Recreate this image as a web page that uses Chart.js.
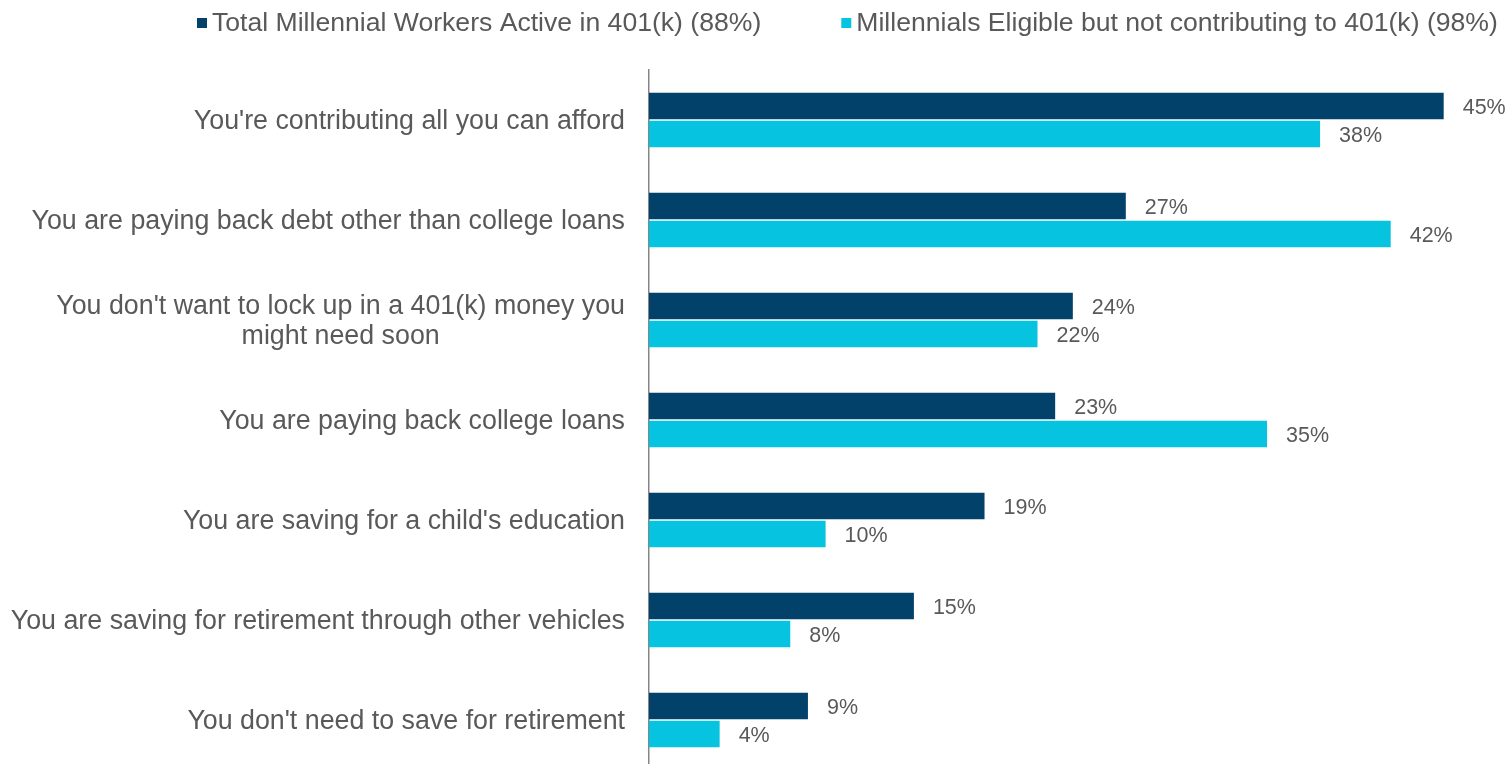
<!DOCTYPE html>
<html>
<head>
<meta charset="utf-8">
<script src="https://cdn.jsdelivr.net/npm/chart.js@4.4.1/dist/chart.umd.min.js"></script>
<style>
  html, body { margin: 0; padding: 0; background: #fff; overflow: hidden; }
  #wrap { position: relative; width: 1505px; height: 772px; }
</style>
</head>
<body>
<div id="wrap"><canvas id="c"></canvas></div>
<script>
const categories = [
  "You're contributing all you can afford",
  "You are paying back debt other than college loans",
  ["You don't want to lock up in a 401(k) money you", "might need soon"],
  "You are paying back college loans",
  "You are saving for a child's education",
  "You are saving for retirement through other vehicles",
  "You don't need to save for retirement"
];
const seriesNames = [
  "Total Millennial Workers Active in 401(k) (88%)",
  "Millennials Eligible but not contributing to 401(k) (98%)"
];
const activeValues = [45, 27, 24, 23, 19, 15, 9];
const eligibleValues = [38, 42, 22, 35, 10, 8, 4];
const colors = ["#02416A", "#06C3DF"];

const FONT = "'Liberation Sans', Arial, sans-serif";
const TEXT = "#595959";

const customPlugin = {
  id: 'custom',
  afterDraw(chart) {
    const ctx = chart.ctx;
    const y = chart.scales.y;
    const area = chart.chartArea;
    ctx.save();
    // Category labels
    ctx.font = "26.8px " + FONT;
    ctx.fillStyle = TEXT;
    ctx.textAlign = "center";
    ctx.textBaseline = "middle";
    const rightEdge = area.left - 24;
    const lineH = 30;
    chart.data.labels.forEach((lab, i) => {
      const lines = Array.isArray(lab) ? lab : [lab];
      const maxW = Math.max(...lines.map(l => ctx.measureText(l).width));
      const cx = rightEdge - maxW / 2;
      const cy = y.getPixelForTick(i) + 2;
      const startY = cy - (lines.length - 1) * lineH / 2;
      lines.forEach((l, k) => ctx.fillText(l, cx, startY + k * lineH));
    });
    // Value labels
    ctx.font = "21.5px " + FONT;
    ctx.textAlign = "left";
    chart.data.datasets.forEach((ds, di) => {
      const meta = chart.getDatasetMeta(di);
      meta.data.forEach((bar, i) => {
        ctx.fillText(ds.data[i] + "%", bar.x + 19, bar.y + 2);
      });
    });
    // Legend
    ctx.font = "26.6px " + FONT;
    let x = 197;
    const ly = 24;
    chart.data.datasets.forEach((ds, di) => {
      ctx.fillStyle = ds.backgroundColor;
      ctx.fillRect(x, ly - 6, 10, 10);
      ctx.fillStyle = TEXT;
      ctx.fillText(ds.label, x + 15, ly);
      x += 15 + ctx.measureText(ds.label).width + 80;
    });
    ctx.restore();
  }
};

new Chart(document.getElementById('c'), {
  type: 'bar',
  data: {
    labels: categories,
    datasets: [
      { label: seriesNames[0], data: activeValues, backgroundColor: colors[0] },
      { label: seriesNames[1], data: eligibleValues, backgroundColor: colors[1] }
    ]
  },
  options: {
    indexAxis: 'y',
    responsive: true,
    maintainAspectRatio: false,
    animation: false,
    layout: { padding: { left: 649, right: 26, top: 70, bottom: 2 } },
    datasets: { bar: { categoryPercentage: 0.56, barPercentage: 0.95, borderWidth: 0 } },
    plugins: { legend: { display: false }, tooltip: { enabled: false } },
    scales: {
      x: { display: false, min: 0, max: 47 },
      y: {
        display: true,
        grid: { display: false, drawTicks: false },
        ticks: { display: false },
        border: { display: true, color: '#868686', width: 1.5 }
      }
    }
  },
  plugins: [customPlugin]
});
</script>
</body>
</html>
